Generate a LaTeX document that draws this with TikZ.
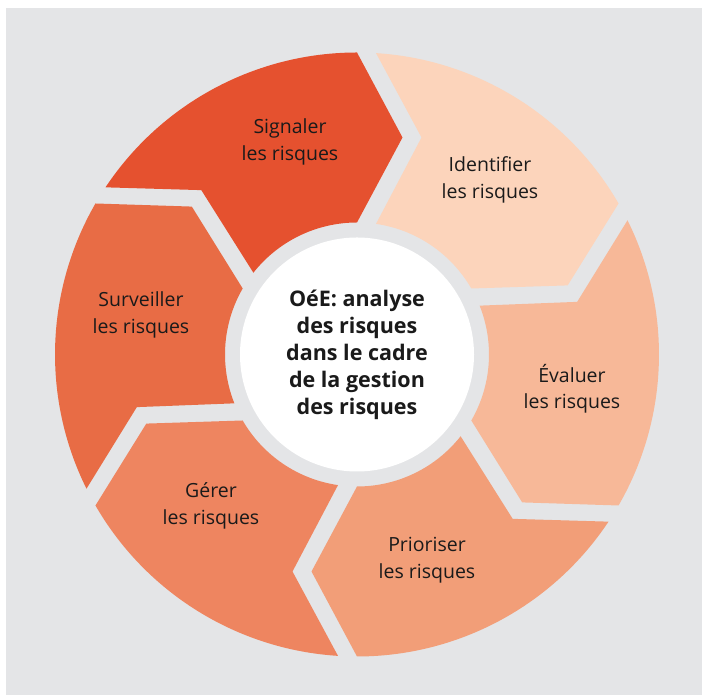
\documentclass[tikz,border=0pt]{standalone}
\usepackage{fontspec}
\setmainfont{Open Sans}
\usetikzlibrary{calc}
\definecolor{panel}{HTML}{E4E5E7}
\definecolor{txt}{HTML}{1A1A1A}
\definecolor{sigC}{HTML}{E5512F}
\definecolor{idfC}{HTML}{FCD4BB}
\definecolor{evaC}{HTML}{F7B898}
\definecolor{priC}{HTML}{F29E78}
\definecolor{gerC}{HTML}{EE8560}
\definecolor{surC}{HTML}{E86C45}
\newcommand{\Seg}[2]{\fill[#2]($(C)+(#1:302)$)--($(C)+(#1:217)+(#1-90:45.5)$)--($(C)+(#1:132)$)arc[start angle=#1,end angle=#1+51.72,radius=132]
  --($(C)+(#1+60:217)+(#1-30:64.5)$)--($(C)+(#1+56.39:302)$)arc[start angle=#1+56.39,end angle=#1,radius=302]--cycle;}
\tikzset{lbl/.style={align=center,text=txt,font=\fontsize{19.5}{26.5}\selectfont}}

\begin{document}
\begin{tikzpicture}[x=1pt,y=1pt]
\useasboundingbox(0,0)rectangle(702,695);
\fill[panel](6,0)rectangle(702,687);
\coordinate(C)at(357,340.5);
\Seg{90}{sigC}\Seg{30}{idfC}\Seg{-30}{evaC}\Seg{-90}{priC}\Seg{-150}{gerC}\Seg{150}{surC}
\fill[white](C)circle[radius=117];
\node[lbl](signaler)at(290,553){Signaler\\les risques};
\node[lbl](identifier)at(490,515){Identifier\\les risques};
\node[lbl](evaluer)at(572,306){Évaluer\\les risques};
\node[lbl](prioriser)at(427,135){Prioriser\\les risques};
\node[lbl](gerer)at(211,189){Gérer\\les risques};
\node[lbl](surveiller)at(141,380){Surveiller\\les risques};
\node[lbl,font=\fontsize{21.5}{27}\selectfont\bfseries](oee)at(C){OéE: analyse\\des risques\\dans le cadre\\de la gestion\\des risques};
\end{tikzpicture}
\end{document}
